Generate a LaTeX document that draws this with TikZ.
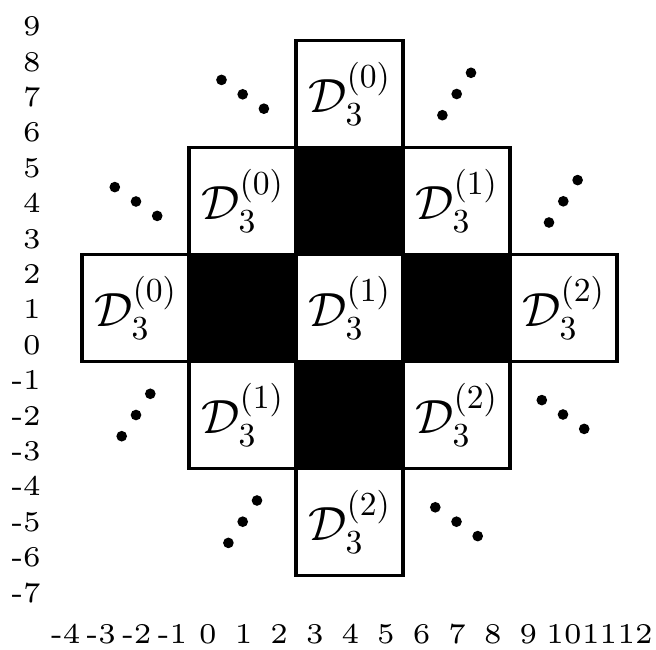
\documentclass[tikz,border=0pt]{standalone}
\DeclareFontShape{OMS}{cmsy}{m}{n}{<->cmsy10}{}
\DeclareFontShape{OT1}{cmr}{m}{n}{<->cmr10}{}
\DeclareFontShape{OML}{cmm}{m}{it}{<->cmmi10}{}
\DeclareFontShape{OMX}{cmex}{m}{n}{<->cmex10}{}
\DeclareFontFamily{OT1}{cmrsmall}{}
\DeclareFontShape{OT1}{cmrsmall}{m}{n}{<->cmr6}{}
\begin{document}
\begin{tikzpicture}[x=0.75pt,y=-0.75pt,
  cell/.style={draw=black,line width=2.5pt,minimum size=80.25pt,inner sep=0pt,outer sep=0pt,fill=white,font=\fontsize{36}{40}\selectfont},
  dark/.style={cell,fill=black},
  ax/.style={inner sep=0pt,font=\fontencoding{OT1}\fontfamily{cmrsmall}\fontsize{21.5}{25}\selectfont},
  dotmark/.style={circle,fill=black,inner sep=0pt,minimum size=8pt}]
\useasboundingbox (0,0) rectangle (656,649);
% dark cells
\node[dark] (k1) at (349.5,201) {};
\node[dark] (k2) at (242.5,308) {};
\node[dark] (k3) at (456.5,308) {};
\node[dark] (k4) at (349.5,415) {};
% labelled cells
\node[cell] (c1) at (349.5,94)  {$\mathcal{D}_3^{(0)}$};
\node[cell] (c2) at (242.5,201) {$\mathcal{D}_3^{(0)}$};
\node[cell] (c3) at (456.5,201) {$\mathcal{D}_3^{(1)}$};
\node[cell] (c4) at (135.5,308) {$\mathcal{D}_3^{(0)}$};
\node[cell] (c5) at (349.5,308) {$\mathcal{D}_3^{(1)}$};
\node[cell] (c6) at (563.5,308) {$\mathcal{D}_3^{(2)}$};
\node[cell] (c7) at (242.5,415) {$\mathcal{D}_3^{(1)}$};
\node[cell] (c8) at (456.5,415) {$\mathcal{D}_3^{(2)}$};
\node[cell] (c9) at (349.5,522) {$\mathcal{D}_3^{(2)}$};
% diagonal dots (descending)
\foreach \cx/\cy [count=\g] in {136/201.5, 242.7/94.3, 563/414.5, 456.5/521.7}{
  \node[dotmark] (da\g a) at (\cx-21.2,\cy-14.4) {};
  \node[dotmark] (da\g b) at (\cx,\cy) {};
  \node[dotmark] (da\g c) at (\cx+21.2,\cy+14.4) {};
}
% diagonal dots (ascending)
\foreach \cx/\cy [count=\g] in {563.3/201.3, 456.7/94, 136/415, 242.7/521.7}{
  \node[dotmark] (db\g a) at (\cx+14.3,\cy-21.2) {};
  \node[dotmark] (db\g b) at (\cx,\cy) {};
  \node[dotmark] (db\g c) at (\cx-14.3,\cy+21.2) {};
}
% axis labels
\foreach \k [count=\i] in {9,8,...,-7}{
  \node[ax,anchor=east] (yl\i) at (41,{345-35.4*\k}) {\k};
}
\foreach \k [count=\i] in {-4,-3,...,12}{
  \node[ax] (xl\i) at ({208+35.6*\k},634) {\k};
}
\end{tikzpicture}
\end{document}
